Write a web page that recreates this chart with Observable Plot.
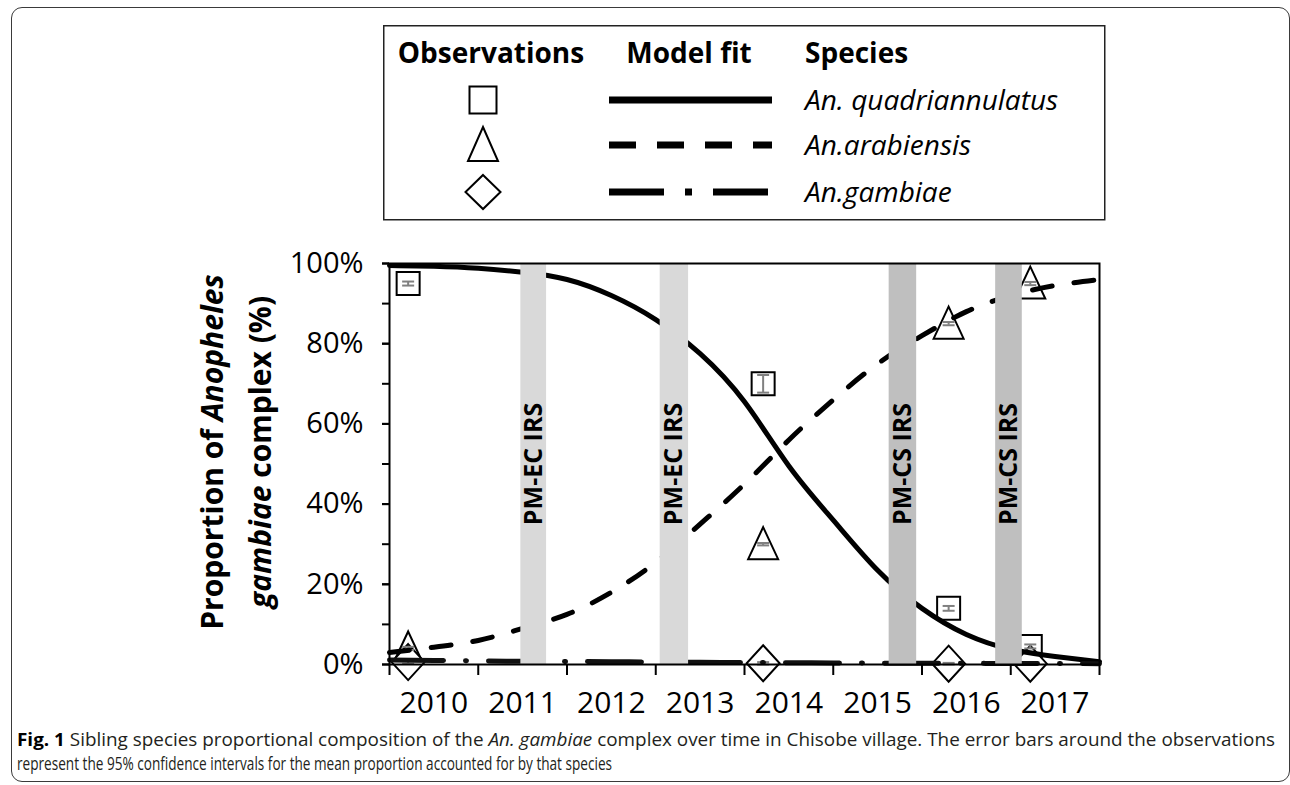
<!DOCTYPE html>
<html>
<head>
<meta charset="utf-8">
<script src="https://cdn.jsdelivr.net/npm/d3@7"></script>
<script src="https://cdn.jsdelivr.net/npm/@observablehq/plot@0.6"></script>
<style>
html,body{margin:0;padding:0;background:#fff;width:1290px;height:785px;overflow:hidden;}
#frame{position:absolute;left:11px;top:7px;width:1279px;height:775px;border:1.5px solid #3a3a3a;border-radius:11px;box-sizing:border-box;}
#legend{position:absolute;left:383px;top:25px;}
#chart{position:absolute;left:0;top:240px;}
#ytitle{position:absolute;left:16px;top:404px;width:440px;height:96px;line-height:48px;text-align:center;
  font-family:"Open Sans",sans-serif;font-weight:bold;font-size:30px;color:#000;transform:rotate(-90deg);transform-origin:center;white-space:nowrap;}
#caption{position:absolute;left:0;top:700px;}
</style>
</head>
<body>
<div id="frame"></div>
<div id="legend"></div>
<div id="chart"></div>
<div id="ytitle">Proportion of <i>Anopheles</i><br><i>gambiae</i> complex (%)</div>
<svg id="caption" width="1290" height="85" font-family="'Open Sans', sans-serif" font-size="18" fill="#231f20">
  <text x="17" y="46" textLength="1258" lengthAdjust="spacingAndGlyphs"><tspan font-weight="bold" fill="#000">Fig. 1</tspan> Sibling species proportional composition of the <tspan font-style="italic">An. gambiae</tspan> complex over time in Chisobe village. The error bars around the observations</text>
  <text x="17" y="70" textLength="595" lengthAdjust="spacingAndGlyphs">represent the 95% confidence intervals for the mean proportion accounted for by that species</text>
</svg>
<script>
// ---------- data ----------
const years = [2010, 2011, 2012, 2013, 2014, 2015, 2016, 2017];
const yTicksMajor = [0, 20, 40, 60, 80, 100];
const yTicksMinor = [0, 10, 20, 30, 40, 50, 60, 70, 80, 90, 100];
const species = ["An. quadriannulatus", "An.arabiensis", "An.gambiae"];

// IRS campaigns (time in fractional years)
const irsLabel = ["PM-EC IRS", "PM-EC IRS", "PM-CS IRS", "PM-CS IRS"];
const irsStart = [2011.48, 2013.05, 2015.63, 2016.83];
const irsEnd   = [2011.77, 2013.37, 2015.94, 2017.13];

// Observations (proportion, %) with 95% CI
const obsTime = [2010.21, 2014.21, 2016.30, 2017.22];
const quadObs = [95, 70, 14, 4.5];
const quadLo  = [94.5, 67.8, 13.4, 4.0];
const quadHi  = [95.5, 72.2, 14.6, 5.0];
const arabObs = [4, 30, 85, 95];
const arabLo  = [3.6, 29.7, 84.6, 94.6];
const arabHi  = [4.4, 30.3, 85.4, 95.4];
const gambObs = [0.6, 0.3, 0.2, 0.2];
const gambLo  = [0.2, 0.0, 0.0, 0.0];
const gambHi  = [1.0, 0.6, 0.4, 0.4];

// Model fit curves
const fitTime = [2010, 2010.5, 2011, 2011.5, 2012, 2012.5, 2013, 2013.5, 2014, 2014.5, 2015, 2015.5, 2016, 2016.5, 2017, 2017.5, 2018];
const quadFit = [99.5, 99.3, 98.8, 97.8, 96, 92, 86, 77.5, 65.5, 49.5, 36, 23.5, 14, 7.5, 3.8, 2, 0.7];
const arabFit = [3, 4.3, 6, 9, 12.5, 18, 25.5, 35, 45, 56, 66, 75, 82, 88, 92, 94.5, 96];
const gambFit = [1.1, 1.0, 0.9, 0.8, 0.75, 0.7, 0.6, 0.55, 0.5, 0.45, 0.4, 0.35, 0.3, 0.3, 0.25, 0.25, 0.2];

// ---------- build tables ----------
const irs = irsLabel.map((label, i) => ({label, start: irsStart[i], end: irsEnd[i]}));
const obsTable = (v, lo, hi) => obsTime.map((t, i) => ({t, v: v[i], lo: lo[i], hi: hi[i]}));
const quadRows = obsTable(quadObs, quadLo, quadHi);
const arabRows = obsTable(arabObs, arabLo, arabHi);
const gambRows = obsTable(gambObs, gambLo, gambHi);
const allRows = [...quadRows, ...arabRows, ...gambRows];
const fitTable = (v) => fitTime.map((t, i) => ({t, v: v[i]}));

// ---------- symbols ----------
function squareSym(h) { return {draw(c) { c.moveTo(-h, -h); c.lineTo(h, -h); c.lineTo(h, h); c.lineTo(-h, h); c.closePath(); }}; }
function triSym(w, top, bot) { return {draw(c) { c.moveTo(0, -top); c.lineTo(w, bot); c.lineTo(-w, bot); c.closePath(); }}; }
function diaSym(w, h) { return {draw(c) { c.moveTo(0, -h); c.lineTo(w, 0); c.lineTo(0, h); c.lineTo(-w, 0); c.closePath(); }}; }
const capSym = {draw(c) { c.moveTo(-6, 0); c.lineTo(6, 0); }};

const plotSymbols = [squareSym(11.5), triSym(15, 17, 15), diaSym(16.5, 18)];
const dashes = [null, "20,22", "54,22,1,22"];
const legendDashes = [null, "27,21", "55,21,7,21"];

// ---------- chart ----------
const markStyle = {fill: "white", stroke: "black", strokeWidth: 2};
const chart = Plot.plot({
  width: 1290,
  height: 470,
  marginLeft: 389,
  marginRight: 191,
  marginTop: 23,
  marginBottom: 46,
  style: {fontFamily: "'Open Sans', sans-serif", fontSize: "29px", color: "black", background: "transparent", overflow: "visible"},
  x: {domain: [2010, 2018]},
  y: {domain: [0, 100]},
  marks: [
    Plot.dot(quadRows, {x: "t", y: "v", symbol: plotSymbols[0], ...markStyle}),
    Plot.dot(arabRows, {x: "t", y: "v", symbol: plotSymbols[1], ...markStyle}),
    Plot.dot(gambRows, {x: "t", y: "v", symbol: plotSymbols[2], ...markStyle}),
    Plot.ruleX(allRows, {x: "t", y1: "lo", y2: "hi", stroke: "#808080", strokeWidth: 2}),
    Plot.dot(allRows, {x: "t", y: "lo", symbol: capSym, stroke: "#808080", strokeWidth: 2}),
    Plot.dot(allRows, {x: "t", y: "hi", symbol: capSym, stroke: "#808080", strokeWidth: 2}),
    Plot.line(fitTable(quadFit), {x: "t", y: "v", curve: "natural", stroke: "black", strokeWidth: 5}),
    Plot.line(fitTable(arabFit), {x: "t", y: "v", curve: "natural", stroke: "black", strokeWidth: 5, strokeDasharray: dashes[1], strokeLinecap: "round"}),
    Plot.line(fitTable(gambFit), {x: "t", y: "v", curve: "natural", stroke: "#111", strokeWidth: 5, strokeDasharray: dashes[2], strokeLinecap: "round"}),
    Plot.rect(irs, {x1: "start", x2: "end", y1: 0, y2: 100, fill: d => d.label.startsWith("PM-EC") ? "#d9d9d9" : "#bfbfbf"}),
    Plot.text(irs, {x: d => (d.start + d.end) / 2, y: 50, text: "label", rotate: -90, fontSize: 25, fontWeight: "bold", fill: "black"}),
    Plot.frame({stroke: "black", strokeWidth: 2}),
    Plot.axisY(yTicksMinor, {tickSize: 7, tickFormat: () => "", strokeWidth: 2}),
    Plot.axisY(yTicksMajor, {tickSize: 7, tickPadding: 19, tickFormat: d => d + "%", strokeWidth: 2, fontSize: 29}),
    Plot.axisX([...years, 2018], {tickSize: 11, tickFormat: () => "", strokeWidth: 2}),
    Plot.axisX(years.map(y => y + 0.5), {tickSize: 0, tickPadding: 27, tickFormat: d => String(Math.floor(d)), fontSize: 30})
  ]
});
document.getElementById("chart").appendChild(chart);

// ---------- legend ----------
const legendSymbols = [squareSym(13.5), triSym(15, 18, 16), diaSym(17.5, 17)];
const leg = d3.select("#legend").append("svg")
  .attr("width", 724).attr("height", 198)
  .attr("font-family", "'Open Sans', sans-serif");
leg.append("rect").attr("x", 0.75).attr("y", 0.75).attr("width", 721).attr("height", 194)
  .attr("fill", "white").attr("stroke", "#222").attr("stroke-width", 1.5);
const headers = [["Observations", 108, "middle"], ["Model fit", 306, "middle"], ["Species", 422, "start"]];
leg.selectAll("text.h").data(headers).join("text").attr("class", "h")
  .attr("x", d => d[1]).attr("y", 38).attr("text-anchor", d => d[2])
  .attr("font-size", 28).attr("font-weight", "bold").attr("fill", "black").text(d => d[0]);
const rowY = [75, 120, 167];
species.forEach((s, i) => {
  leg.append("path").attr("transform", `translate(100,${rowY[i]})`)
    .attr("d", d3.symbol(legendSymbols[i])()).attr("fill", "white").attr("stroke", "black").attr("stroke-width", 2);
  leg.append("line").attr("x1", 226).attr("x2", 389).attr("y1", rowY[i]).attr("y2", rowY[i])
    .attr("stroke", "black").attr("stroke-width", 7)
    .attr("stroke-dasharray", legendDashes[i]);
  leg.append("text").attr("x", 422).attr("y", rowY[i] + 10).attr("font-size", 28)
    .attr("font-style", "italic").attr("fill", "black").text(s);
});
</script>
</body>
</html>
